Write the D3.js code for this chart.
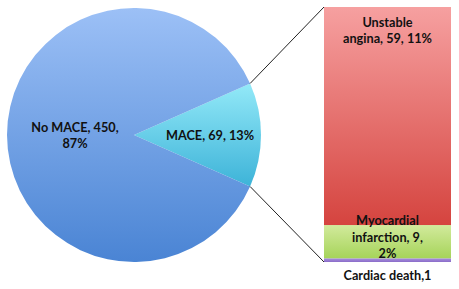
<!DOCTYPE html>
<html>
<head>
<meta charset="utf-8">
<script src="https://cdn.jsdelivr.net/npm/d3@7"></script>
<style>
  body { margin: 0; background: #fff; }
  text { font-family: Lato, "Open Sans", sans-serif; font-weight: bold; font-size: 12.7px; fill: #111; }
</style>
</head>
<body>
<script>
const width = 459, height = 289;

// pie data
const pieNames = ["MACE", "No MACE"];
const pieValues = [69, 450];
const piePct = ["13%", "87%"];

// breakdown of MACE (bottom to top)
const barNames = ["Cardiac death", "Myocardial infarction", "Unstable angina"];
const barValues = [1, 9, 59];
const barPct = ["", "2%", "11%"];

const cx = 134, cy = 135, r = 127;
const barX = 324, barW = 127, barTop = 7, barBottom = 262;

const svg = d3.select("body").append("svg")
    .attr("width", width)
    .attr("height", height);

const defs = svg.append("defs");
function grad(id, c1, c2) {
    const g = defs.append("linearGradient")
        .attr("id", id)
        .attr("x1", 0).attr("y1", 0).attr("x2", 0).attr("y2", 1);
    g.append("stop").attr("offset", "0%").attr("stop-color", c1);
    g.append("stop").attr("offset", "100%").attr("stop-color", c2);
}
grad("gBlue", "#9cc0f6", "#4a84d4");
grad("gCyan", "#93e9f8", "#3db3d8");
grad("gRed", "#f6a0a0", "#d5443f");
grad("gGreen", "#d2ea9c", "#a6d45a");
grad("gPurple", "#a88ee0", "#8a6cc8");

const total = d3.sum(pieValues);
const half = pieValues[0] / total * Math.PI;
const pie = d3.pie()
    .sort(null)
    .startAngle(Math.PI / 2 - half)
    .endAngle(Math.PI / 2 - half + 2 * Math.PI);
const arcs = pie(pieValues);
const arc = d3.arc().innerRadius(0).outerRadius(r);

const g = svg.append("g").attr("transform", "translate(" + cx + "," + cy + ")");
g.selectAll("path.slice")
    .data(arcs)
    .enter()
    .append("path")
    .attr("class", "slice")
    .attr("fill", (d, i) => i === 0 ? "url(#gCyan)" : "url(#gBlue)")
    .attr("d", arc);

// bar (stacked)
const y = d3.scaleLinear()
    .domain([0, d3.sum(barValues)])
    .range([barBottom, barTop]);
let acc = 0;
const stack = barValues.map(v => { const s = { y0: acc, y1: acc + v }; acc += v; return s; });
const barFills = ["url(#gPurple)", "url(#gGreen)", "url(#gRed)"];
svg.selectAll("rect.seg")
    .data(stack)
    .enter()
    .append("rect")
    .attr("class", "seg")
    .attr("x", barX)
    .attr("width", barW)
    .attr("y", d => y(d.y1))
    .attr("height", d => y(d.y0) - y(d.y1))
    .attr("fill", (d, i) => barFills[i]);

// connector lines from the MACE slice edges to the bar corners
const a0 = arcs[0].startAngle, a1 = arcs[0].endAngle;
const p0 = [cx + r * Math.sin(a0), cy - r * Math.cos(a0)];
const p1 = [cx + r * Math.sin(a1), cy - r * Math.cos(a1)];
svg.append("line")
    .attr("x1", p0[0]).attr("y1", p0[1])
    .attr("x2", barX).attr("y2", y(d3.sum(barValues)))
    .attr("stroke", "#222").attr("stroke-width", 1);
svg.append("line")
    .attr("x1", p1[0]).attr("y1", p1[1])
    .attr("x2", barX).attr("y2", y(0))
    .attr("stroke", "#222").attr("stroke-width", 1);

// labels
function label(x, yy, lines, lh) {
    const t = svg.append("text")
        .attr("x", x)
        .attr("y", yy)
        .style("text-anchor", "middle");
    lines.forEach((l, i) => {
        t.append("tspan").attr("x", x).attr("dy", i === 0 ? 0 : lh).text(l);
    });
}
label(75, 132, [pieNames[1] + ", " + pieValues[1] + ",", piePct[1]], 16);
label(210, 140, [pieNames[0] + ", " + pieValues[0] + ", " + piePct[0]], 16);

const bx = barX + barW / 2;
label(bx, 27, ["Unstable", "angina, " + barValues[2] + ", " + barPct[2]], 16);
label(bx, 225, ["Myocardial", "infarction, " + barValues[1] + ",", barPct[1]], 16.5);
label(bx, 280, [barNames[0] + "," + barValues[0]], 16);
</script>
</body>
</html>
